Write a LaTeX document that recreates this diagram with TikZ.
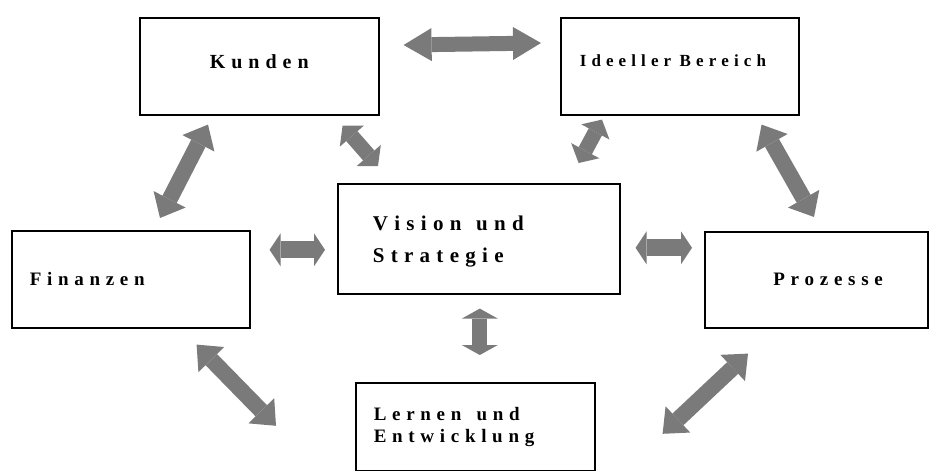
\documentclass[tikz,border=0pt]{standalone}
\usepackage{fontspec}
\setmainfont{Liberation Serif}
\usepackage{tikz}
\usetikzlibrary{arrows.meta, positioning, calc}

\definecolor{arrowgray}{RGB}{122,122,122}

% letter-spaced labels: \spacedtext[word space]{text}
\ExplSyntaxOn
\seq_new:N \l_lsp_words_seq
\cs_new_protected:Npn \lsp_word:n #1
  {
    \bool_set_false:N \l_tmpb_bool
    \tl_map_inline:nn {#1}
      {
        \bool_if:NT \l_tmpb_bool { \kern .3em }
        \bool_set_true:N \l_tmpb_bool
        ##1
      }
  }
\NewDocumentCommand \spacedtext { O{.6em} m }
  {
    \seq_set_split:Nnn \l_lsp_words_seq { ~ } {#2}
    \bool_set_false:N \l_tmpa_bool
    \seq_map_inline:Nn \l_lsp_words_seq
      {
        \bool_if:NT \l_tmpa_bool { \hspace*{#1} }
        \bool_set_true:N \l_tmpa_bool
        \lsp_word:n {##1}
      }
  }
\ExplSyntaxOff

\tikzset{
  box/.style={draw, line width=1.6pt, anchor=north west, inner ysep=0pt, align=left},
  dbl/.style n args={3}{draw=arrowgray, line width=#1,
    {Triangle[width=#2,length=#3,line width=0pt]}-{Triangle[width=#2,length=#3,line width=0pt]}},
  longarrow/.style={dbl={15pt}{33pt}{28pt}},
  diagarrow/.style={dbl={16pt}{36pt}{21pt}},
  smalldiag/.style={dbl={15pt}{32pt}{14pt}},
  shortarrow/.style={dbl={17pt}{33pt}{11pt}},
}

\begin{document}
\begin{tikzpicture}[x=1pt, y=-1pt]
  \useasboundingbox (0,0) rectangle (930,471);

  % perspective boxes
  \node[box, align=center, text width=219pt, inner xsep=10pt, minimum height=97pt,
        text height=14pt, text depth=10pt,
        font=\bfseries\fontsize{20}{24}\selectfont] (kunden) at (139,17) {\spacedtext{Kunden}};
  \node[box, text width=200pt, inner xsep=19pt, minimum height=97pt,
        text height=12pt, text depth=12pt,
        font=\bfseries\fontsize{17}{20}\selectfont] (ideell) at (560,17) {\spacedtext[.5em]{Ideeller Bereich}};
  \node[box, text width=212pt, inner xsep=35pt, minimum height=110pt,
        font=\bfseries\fontsize{21}{31.7}\selectfont] (vision) at (337,183)
        {\rule{0pt}{20pt}\spacedtext[.7em]{Vision und}\\\spacedtext{Strategie}};
  \node[box, text width=202pt, inner xsep=18pt, minimum height=97pt,
        font=\bfseries\fontsize{19}{22}\selectfont] (finanzen) at (11,230) {\spacedtext{Finanzen}};
  \node[box, align=right, text width=133pt, inner xsep=45pt, minimum height=96pt,
        font=\bfseries\fontsize{19}{22}\selectfont] (prozesse) at (704,231) {\spacedtext{Prozesse}};
  \node[box, text width=203pt, inner xsep=18pt, minimum height=88pt,
        font=\bfseries\fontsize{19}{21.7}\selectfont] (lernen) at (355,382)
        {\spacedtext[.8em]{Lernen und}\\\spacedtext{Entwicklung}};

  % block arrows
  \draw[longarrow] ([shift={(24,28)}]kunden.north east) -- ([shift={(-19,26)}]ideell.north west);
  \draw[smalldiag] ([shift={(-37,10)}]kunden.south east) -- ([shift={(41,-17)}]vision.north west);
  \draw[diagarrow] ([shift={(69,9)}]kunden.south west) -- ([shift={(149,-12)}]finanzen.north west);
  \draw[smalldiag] ([shift={(42,4)}]ideell.south west) -- ([shift={(-42,-20)}]vision.north east);
  \draw[diagarrow] ([shift={(-38,9)}]ideell.south east) -- ([shift={(110,-14)}]prozesse.north west);
  \draw[shortarrow] ([shift={(19,-29.5)}]finanzen.east) -- ([shift={(-12,11)}]vision.west);
  \draw[shortarrow] ([shift={(15,9)}]vision.east) -- ([shift={(-12,-32)}]prozesse.west);
  \draw[dbl={15pt}{36pt}{10pt}] ([shift={(1,14)}]vision.south) -- ([shift={(4.5,-27)}]lernen.north);
  \draw[diagarrow] ([shift={(-54,16)}]finanzen.south east) -- ([shift={(-79,-1)}]lernen.west);
  \draw[diagarrow] ([shift={(44,25)}]prozesse.south west) -- ([shift={(67,7)}]lernen.east);
\end{tikzpicture}
\end{document}
